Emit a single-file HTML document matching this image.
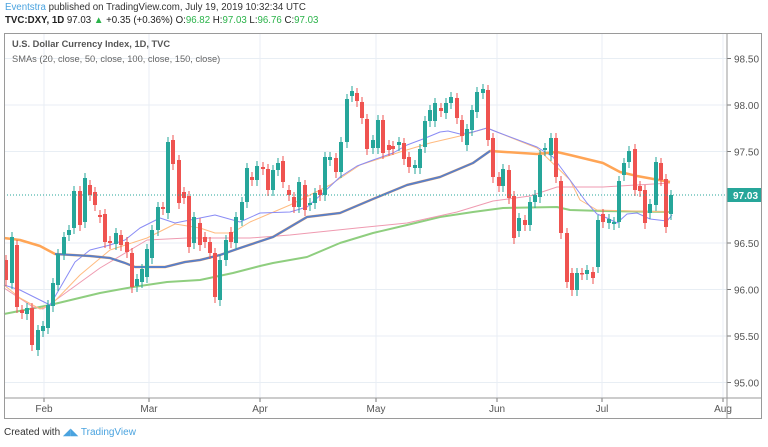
<!DOCTYPE html>
<html><head><meta charset="utf-8"><style>
body{margin:0;width:768px;height:447px;background:#fff;overflow:hidden;font-family:"Liberation Sans",sans-serif;}
.t{position:absolute;white-space:nowrap;}
</style></head><body>
<div class="t" style="left:5px;top:2px;font-size:9.7px;color:#333"><span style="color:#4aa3df">Eventstra</span> published on TradingView.com, July 19, 2019 10:32:34 UTC</div>
<div class="t" style="left:5px;top:15px;font-size:9.7px;color:#222;font-weight:bold">TVC:DXY, 1D <span style="font-weight:normal">97.03 <span style="color:#2bb34a">▲</span> +0.35 (+0.36%) O:<span style="color:#2bb34a">96.82</span> H:<span style="color:#2bb34a">97.03</span> L:<span style="color:#2bb34a">96.76</span> C:<span style="color:#2bb34a">97.03</span></span></div>
<svg id="s" width="768" height="447" style="position:absolute;left:0;top:0" xmlns="http://www.w3.org/2000/svg"></svg>
<div class="t" style="left:12px;top:39px;font-size:9.3px;color:#555;font-weight:bold">U.S. Dollar Currency Index, 1D, TVC</div>
<div class="t" style="left:12px;top:54px;font-size:9.3px;color:#666">SMAs (20, close, 50, close, 100, close, 150, close)</div>
<div class="t" style="left:4px;top:427px;font-size:10px;color:#333">Created with <span style="color:#4aa3df">◢◣ TradingView</span></div>
<script>
var s=document.getElementById('s'),h='';
function L(x1,y1,x2,y2,c,w,d){h+='<line x1="'+x1+'" y1="'+y1+'" x2="'+x2+'" y2="'+y2+'" stroke="'+c+'" stroke-width="'+(w||1)+'"'+(d?' stroke-dasharray="'+d+'"':'')+'/>';}
function P(pts,c,w){h+='<polyline fill="none" stroke="'+c+'" stroke-width="'+w+'" stroke-linejoin="round" points="'+pts.map(function(p){return p.join(',')}).join(' ')+'"/>';}
var lv=[[58.5,'98.50'],[105,'98.00'],[151.5,'97.50'],[243,'96.50'],[289.5,'96.00'],[336,'95.50'],[382.5,'95.00']];
lv.forEach(function(v){L(4,v[0],727,v[0],'#e8eef4');L(727,v[0],731,v[0],'#777');h+='<text x="734" y="'+(v[0]+4)+'" font-size="10" fill="#555" font-family="Liberation Sans">'+v[1]+'</text>';});
var mo=[[44,'Feb'],[149,'Mar'],[260,'Apr'],[376,'May'],[497,'Jun'],[602,'Jul'],[723,'Aug']];
mo.forEach(function(m){L(m[0],33,m[0],398,'#e8eef4');L(m[0],398,m[0],402,'#777');h+='<text x="'+m[0]+'" y="412" font-size="10" fill="#555" text-anchor="middle" font-family="Liberation Sans">'+m[1]+'</text>';});
P([[4,314],[50,305],[100,293],[133,287],[167,282],[200,280],[233,273],[260,266],[273,263],[307,257],[340,243],[373,233],[407,225],[440,217],[473,212],[503,208],[557,207],[570,210],[603,211],[670,212]],'#8fce7f',2);
P([[4,288],[33,307],[43,309],[53,302],[100,268],[147,240],[187,238],[250,238],[290,235],[357,228],[407,223],[457,212],[493,201],[530,196],[557,187],[603,187],[670,183]],'#ef9ab0',1);
P([[4,285],[20,298],[40,309],[52,304],[80,275],[110,250],[147,238],[175,224],[200,228],[215,233],[232,233],[250,222],[290,205],[330,185],[360,165],[400,152],[430,143],[460,136],[487,128],[537,148],[570,180],[580,200],[597,210],[670,212]],'#ffbb80',1);
P([[4,285],[20,290],[50,305],[60,288],[75,262],[90,250],[110,245],[125,240],[140,228],[160,218],[175,223],[200,218],[215,215],[240,222],[260,213],[290,212],[307,207],[323,193],[340,177],[357,166],[373,160],[393,153],[407,145],[423,139],[440,132],[448,131],[460,134],[473,132],[487,128],[497,132],[537,147],[553,157],[570,180],[587,203],[597,214],[607,218],[617,223],[627,214],[637,213],[650,219],[667,221],[672,215]],'#8a8cf5',1);
P([[4,238],[20,240],[40,246],[55,254],[90,256],[110,258],[125,263],[135,267],[165,267],[185,262],[200,260],[220,255],[240,248],[273,237],[307,217],[340,213],[373,199],[407,185],[440,177],[473,163],[490,151],[537,154],[557,152],[570,155],[603,163],[620,172],[637,176],[670,182]],'#ffa556',2.5);
P([[55,254],[90,256],[110,258],[125,263],[135,267],[165,267],[185,262],[200,260],[220,255],[240,248],[273,237],[307,217],[340,213],[373,199],[407,185],[440,177],[473,163],[490,151]],'#5a80c8',2);
var c=[[6,260,280],[12,283,237],[17,245,307],[22,310,313],[27,314,308],[32,308,345],[38,350,330],[43,331,326],[48,328,305],[53,306,283],[58,285,254],[64,254,237],[69,235,230],[74,228,191],[80,191,225],[85,222,178],[90,185,195],[95,192,205],[100,215,217],[105,214,242],[110,241,243],[116,244,233],[121,235,245],[127,242,252],[132,253,287],[137,286,279],[142,282,269],[147,277,249],[152,258,230],[158,230,207],[163,207,209],[168,213,142],[173,140,164],[179,160,203],[184,192,198],[189,196,247],[194,243,217],[200,223,245],[205,237,242],[210,242,253],[215,253,297],[220,300,260],[226,260,240],[231,232,242],[236,243,217],[242,220,202],[247,202,168],[252,177,180],[257,180,166],[263,167,169],[268,169,190],[273,190,170],[278,170,163],[283,161,182],[289,190,195],[294,197,207],[299,207,182],[305,185,210],[310,205,203],[315,203,193],[320,190,195],[325,195,157],[330,160,157],[336,158,172],[341,172,142],[347,142,99],[352,96,91],[357,93,101],[362,102,118],[367,119,149],[373,148,140],[378,148,120],[383,120,153],[389,145,150],[393,146,149],[399,145,142],[404,143,159],[409,157,167],[415,168,165],[420,168,149],[425,147,121],[430,121,110],[435,121,103],[441,108,111],[446,113,103],[451,103,97],[457,98,118],[462,120,136],[467,145,129],[472,130,110],[477,112,92],[483,93,89],[488,90,140],[493,138,177],[499,177,186],[503,186,169],[509,170,198],[514,196,238],[519,231,218],[525,220,225],[530,225,202],[535,202,195],[540,197,155],[545,150,148],[551,155,138],[556,138,177],[561,181,233],[567,233,282],[572,273,290],[577,290,273],[582,273,274],[587,274,270],[593,272,278],[598,267,220],[603,214,222],[609,223,219],[614,224,222],[619,222,181],[624,175,163],[629,162,151],[635,149,190],[640,186,191],[645,190,223],[650,213,204],[656,205,162],[661,163,180],[666,179,227],[671,214,195]];
c.forEach(function(k){var x=k[0],o=k[1],cl=k[2],up=cl<=o,col=up?'#26a69a':'#ef5350';var t=Math.min(o,cl),b=Math.max(o,cl);
L(x,t-5,x,b+6,col,1);h+='<rect x="'+(x-2)+'" y="'+t+'" width="4" height="'+Math.max(1.5,b-t)+'" fill="'+col+'"/>';});
L(4,195,727,195,'#26a69a',1,'1,2');
h+='<rect x="727" y="188" width="35" height="14" fill="#26a69a"/><text x="733" y="199" font-size="10" font-weight="bold" fill="#fff" font-family="Liberation Sans">97.03</text>';
h+='<rect x="4.5" y="33.5" width="757" height="385" fill="none" stroke="#9a9a9a"/>';
L(4,398,762,398,'#9a9a9a');L(727,33,727,419,'#9a9a9a');
s.innerHTML=h;
</script>
</body></html>
